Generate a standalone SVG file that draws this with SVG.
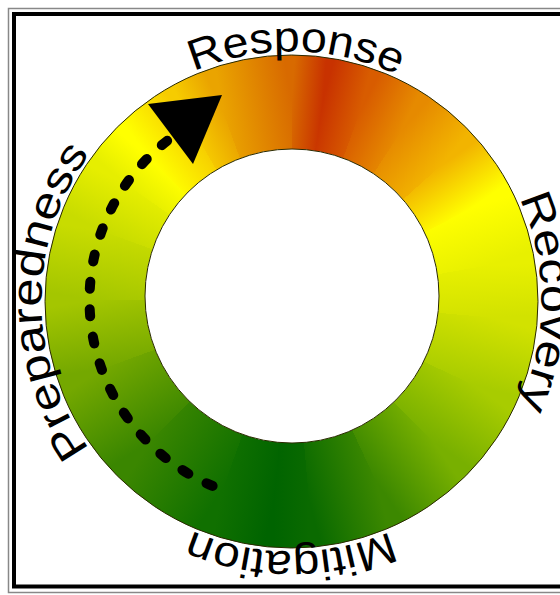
<svg xmlns="http://www.w3.org/2000/svg" width="560" height="595" viewBox="0 0 560 595">
<style>
.w{shape-rendering:crispEdges}
.lbl{font-family:"Liberation Sans",Arial,sans-serif;font-size:43px;fill:#000}
</style>
<defs>
<clipPath id="ringClip"><path clip-rule="evenodd" d="M45,301.5 a246.5,246.5 0 1,0 493,0 a246.5,246.5 0 1,0 -493,0 Z M145,296 a147,147 0 1,0 294,0 a147,147 0 1,0 -294,0 Z"/></clipPath>
<linearGradient id="g1" gradientUnits="userSpaceOnUse" x1="291.5" y1="100" x2="322.79" y2="102.46"><stop offset="0" stop-color="#d86a00"/><stop offset="1" stop-color="#c83200"/></linearGradient>
<linearGradient id="g2" gradientUnits="userSpaceOnUse" x1="322.79" y1="102.46" x2="359.9" y2="112.06"><stop offset="0" stop-color="#c83200"/><stop offset="1" stop-color="#d85c00"/></linearGradient>
<linearGradient id="g3" gradientUnits="userSpaceOnUse" x1="359.9" y1="112.06" x2="400.43" y2="132.27"><stop offset="0" stop-color="#d85c00"/><stop offset="1" stop-color="#e68a00"/></linearGradient>
<linearGradient id="g4" gradientUnits="userSpaceOnUse" x1="400.43" y1="132.27" x2="440.13" y2="166.17"><stop offset="0" stop-color="#e68a00"/><stop offset="1" stop-color="#f2b400"/></linearGradient>
<linearGradient id="g5" gradientUnits="userSpaceOnUse" x1="440.13" y1="166.17" x2="469.7" y2="209.2"><stop offset="0" stop-color="#f2b400"/><stop offset="1" stop-color="#ffff00"/></linearGradient>
<linearGradient id="g6" gradientUnits="userSpaceOnUse" x1="469.7" y1="209.2" x2="488.46" y2="265.27"><stop offset="0" stop-color="#ffff00"/><stop offset="1" stop-color="#e8f000"/></linearGradient>
<linearGradient id="g7" gradientUnits="userSpaceOnUse" x1="488.46" y1="265.27" x2="490.74" y2="317.43"><stop offset="0" stop-color="#e8f000"/><stop offset="1" stop-color="#d2e200"/></linearGradient>
<linearGradient id="g8" gradientUnits="userSpaceOnUse" x1="490.74" y1="317.43" x2="472.76" y2="384.52"><stop offset="0" stop-color="#d2e200"/><stop offset="1" stop-color="#a8cc00"/></linearGradient>
<linearGradient id="g9" gradientUnits="userSpaceOnUse" x1="472.76" y1="384.52" x2="432.92" y2="441.42"><stop offset="0" stop-color="#a8cc00"/><stop offset="1" stop-color="#78b000"/></linearGradient>
<linearGradient id="g10" gradientUnits="userSpaceOnUse" x1="432.92" y1="441.42" x2="376.02" y2="481.26"><stop offset="0" stop-color="#78b000"/><stop offset="1" stop-color="#3c8800"/></linearGradient>
<linearGradient id="g11" gradientUnits="userSpaceOnUse" x1="376.02" y1="481.26" x2="308.93" y2="499.24"><stop offset="0" stop-color="#3c8800"/><stop offset="1" stop-color="#0a6a00"/></linearGradient>
<linearGradient id="g12" gradientUnits="userSpaceOnUse" x1="308.93" y1="499.24" x2="274.07" y2="499.24"><stop offset="0" stop-color="#0a6a00"/><stop offset="1" stop-color="#006400"/></linearGradient>
<linearGradient id="g13" gradientUnits="userSpaceOnUse" x1="274.07" y1="499.24" x2="223.1" y2="487.94"><stop offset="0" stop-color="#006400"/><stop offset="1" stop-color="#107000"/></linearGradient>
<linearGradient id="g14" gradientUnits="userSpaceOnUse" x1="223.1" y1="487.94" x2="150.08" y2="441.42"><stop offset="0" stop-color="#107000"/><stop offset="1" stop-color="#3a8600"/></linearGradient>
<linearGradient id="g15" gradientUnits="userSpaceOnUse" x1="150.08" y1="441.42" x2="103.56" y2="368.4"><stop offset="0" stop-color="#3a8600"/><stop offset="1" stop-color="#74a800"/></linearGradient>
<linearGradient id="g16" gradientUnits="userSpaceOnUse" x1="103.56" y1="368.4" x2="91.5" y2="300"><stop offset="0" stop-color="#74a800"/><stop offset="1" stop-color="#a4c600"/></linearGradient>
<linearGradient id="g17" gradientUnits="userSpaceOnUse" x1="91.5" y1="300" x2="103.56" y2="231.6"><stop offset="0" stop-color="#a4c600"/><stop offset="1" stop-color="#c8dc00"/></linearGradient>
<linearGradient id="g18" gradientUnits="userSpaceOnUse" x1="103.56" y1="231.6" x2="127.67" y2="185.28"><stop offset="0" stop-color="#c8dc00"/><stop offset="1" stop-color="#e6ee00"/></linearGradient>
<linearGradient id="g19" gradientUnits="userSpaceOnUse" x1="127.67" y1="185.28" x2="150.08" y2="158.58"><stop offset="0" stop-color="#e6ee00"/><stop offset="1" stop-color="#ffff00"/></linearGradient>
<linearGradient id="g20" gradientUnits="userSpaceOnUse" x1="150.08" y1="158.58" x2="191.5" y2="126.79"><stop offset="0" stop-color="#ffff00"/><stop offset="1" stop-color="#f6cc00"/></linearGradient>
<linearGradient id="g21" gradientUnits="userSpaceOnUse" x1="191.5" y1="126.79" x2="223.1" y2="112.06"><stop offset="0" stop-color="#f6cc00"/><stop offset="1" stop-color="#eaa400"/></linearGradient>
<linearGradient id="g22" gradientUnits="userSpaceOnUse" x1="223.1" y1="112.06" x2="291.5" y2="100"><stop offset="0" stop-color="#eaa400"/><stop offset="1" stop-color="#d86a00"/></linearGradient>
<path id="tp" d="M114.72,478.28 A250,250 0 1,1 468.28,124.72 A250,250 0 1,1 114.72,478.28"/>
</defs>

<g id="frame" fill="none">
<rect x="8.5" y="8.5" width="570" height="584" stroke="#888" stroke-width="1.5"/>
<rect x="14" y="14" width="570" height="572.5" stroke="#000" stroke-width="4"/>
</g>

<g id="ring">
<g clip-path="url(#ringClip)">
<path class="w" fill="url(#g1)" d="M291.5,300 L291.5,0 L338.43,3.69 Z"/>
<path class="w" fill="url(#g2)" d="M291.5,300 L338.43,3.69 L394.11,18.09 Z"/>
<path class="w" fill="url(#g3)" d="M291.5,300 L394.11,18.09 L454.89,48.4 Z"/>
<path class="w" fill="url(#g4)" d="M291.5,300 L454.89,48.4 L514.44,99.26 Z"/>
<path class="w" fill="url(#g5)" d="M291.5,300 L514.44,99.26 L558.8,163.8 Z"/>
<path class="w" fill="url(#g6)" d="M291.5,300 L558.8,163.8 L586.94,247.9 Z"/>
<path class="w" fill="url(#g7)" d="M291.5,300 L586.94,247.9 L590.36,326.15 Z"/>
<path class="w" fill="url(#g8)" d="M291.5,300 L590.36,326.15 L563.39,426.79 Z"/>
<path class="w" fill="url(#g9)" d="M291.5,300 L563.39,426.79 L503.63,512.13 Z"/>
<path class="w" fill="url(#g10)" d="M291.5,300 L503.63,512.13 L418.29,571.89 Z"/>
<path class="w" fill="url(#g11)" d="M291.5,300 L418.29,571.89 L317.65,598.86 Z"/>
<path class="w" fill="url(#g12)" d="M291.5,300 L317.65,598.86 L265.35,598.86 Z"/>
<path class="w" fill="url(#g13)" d="M291.5,300 L265.35,598.86 L188.89,581.91 Z"/>
<path class="w" fill="url(#g14)" d="M291.5,300 L188.89,581.91 L79.37,512.13 Z"/>
<path class="w" fill="url(#g15)" d="M291.5,300 L79.37,512.13 L9.59,402.61 Z"/>
<path class="w" fill="url(#g16)" d="M291.5,300 L9.59,402.61 L-8.5,300 Z"/>
<path class="w" fill="url(#g17)" d="M291.5,300 L-8.5,300 L9.59,197.39 Z"/>
<path class="w" fill="url(#g18)" d="M291.5,300 L9.59,197.39 L45.75,127.93 Z"/>
<path class="w" fill="url(#g19)" d="M291.5,300 L45.75,127.93 L79.37,87.87 Z"/>
<path class="w" fill="url(#g20)" d="M291.5,300 L79.37,87.87 L141.5,40.19 Z"/>
<path class="w" fill="url(#g21)" d="M291.5,300 L141.5,40.19 L188.89,18.09 Z"/>
<path class="w" fill="url(#g22)" d="M291.5,300 L188.89,18.09 L291.5,0 Z"/>
</g>
<circle cx="291.5" cy="301.5" r="246.5" fill="none" stroke="#2a2a00" stroke-width="1"/>
<circle cx="292" cy="296" r="147" fill="#fff" stroke="#2a2a00" stroke-width="1"/>
</g>

<g id="labels" class="lbl" text-anchor="middle">
<text id="preparedness"><textPath href="#tp" startOffset="196.35" textLength="316" lengthAdjust="spacingAndGlyphs">Preparedness</textPath></text>
<text id="response"><textPath href="#tp" startOffset="593.4" textLength="210" lengthAdjust="spacingAndGlyphs">Response</textPath></text>
<text id="recovery"><textPath href="#tp" startOffset="981.75" textLength="214" lengthAdjust="spacingAndGlyphs">Recovery</textPath></text>
<text id="mitigation"><textPath href="#tp" startOffset="1374.45" textLength="204" lengthAdjust="spacingAndGlyphs">Mitigation</textPath></text>
</g>

<g id="connectors">
<path d="M167.14,140.82 A202,202 0 0,0 212.57,485.94" fill="none" stroke="#000" stroke-width="10" stroke-linecap="round" stroke-dasharray="7 20.5"/>
<polygon points="222,95 148,104 193,164" fill="#000"/>
</g>
</svg>
